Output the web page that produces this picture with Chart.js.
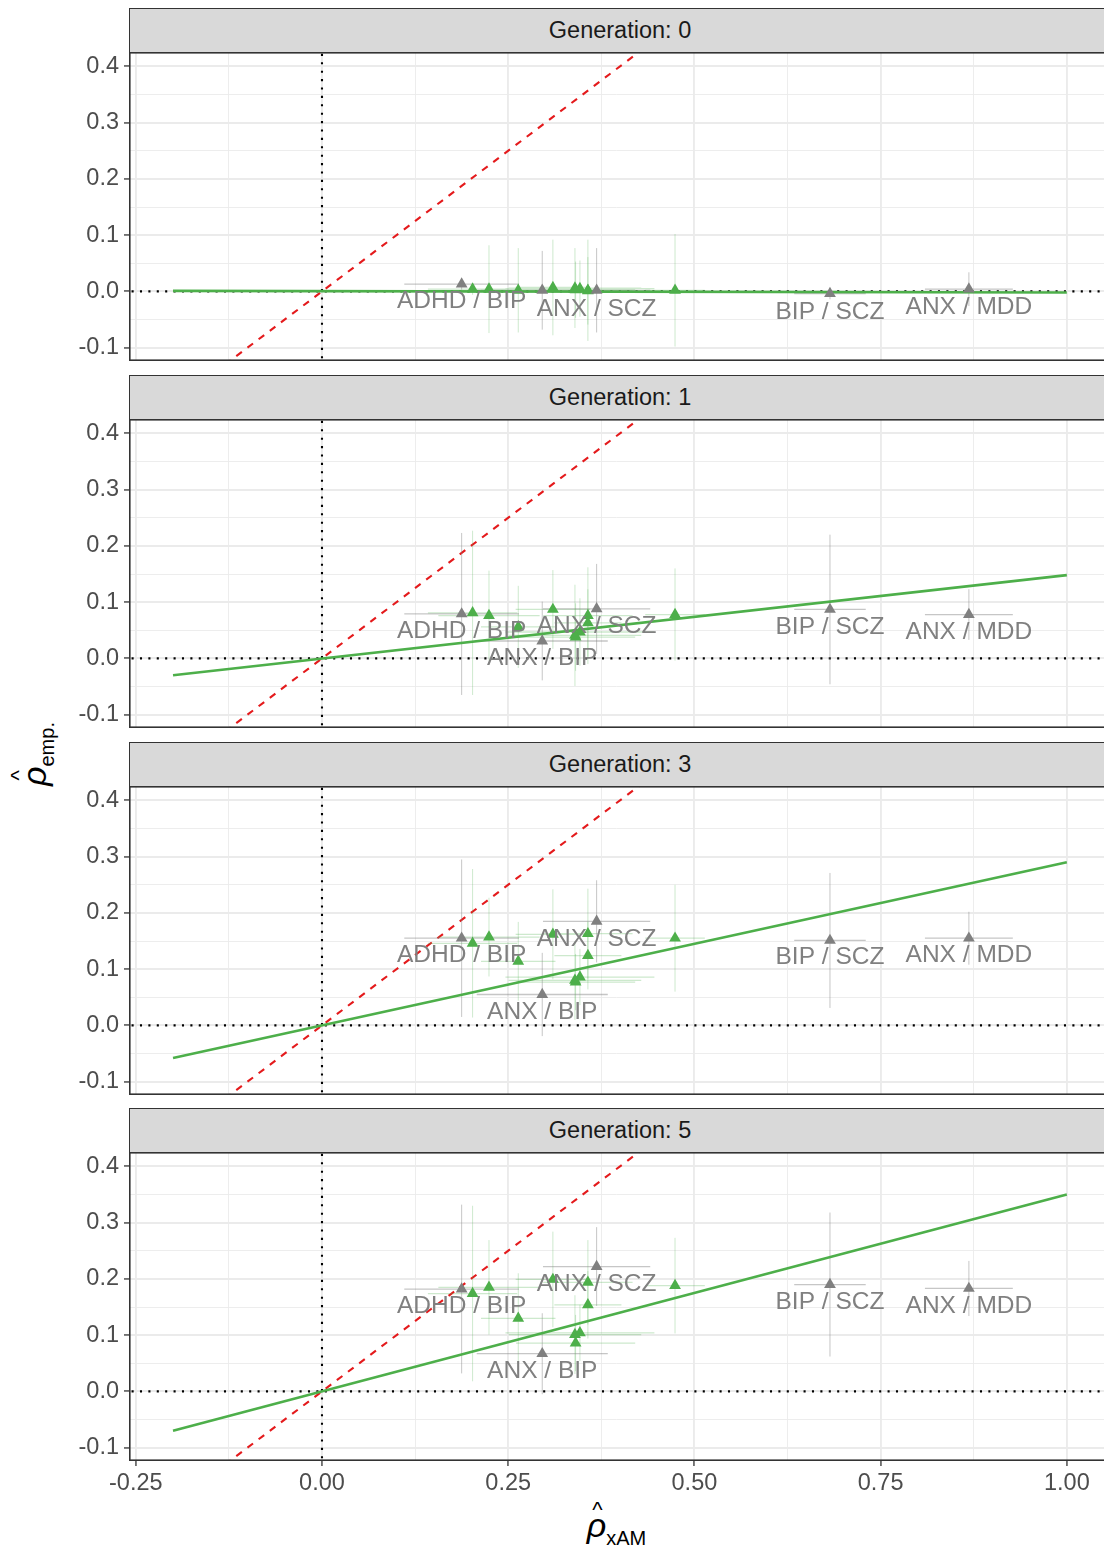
<!DOCTYPE html>
<html>
<head>
<meta charset="utf-8">
<script src="https://cdn.jsdelivr.net/npm/chart.js@4.4.1/dist/chart.umd.min.js"></script>
<style>
  body { margin: 0; background: #fff; font-family: "Liberation Sans", Arial, sans-serif; }
  #figure { position: relative; width: 1104px; height: 1549px; overflow: hidden; background: #fff; }
  .strip {
    position: absolute; left: 129px; width: 990px; height: 45px;
    background: #d9d9d9; border: 1.5px solid #333; box-sizing: border-box;
    color: #1a1a1a; font-size: 23.5px; line-height: 42px;
    padding-right: 8px; text-align: center;
  }
  .panel { position: absolute; left: 0; }
  .axisTitle { position: absolute; white-space: nowrap; color: #000; line-height: 1; text-align: center; }
  .rho { position: relative; display: inline-block; font-size: 34px; font-style: italic; }
  .caret { position: absolute; left: 2px; right: 0; top: -9px; font-size: 22px; font-style: normal; text-align: center; }
  .sub { font-size: 20px; position: relative; top: 8px; }
</style>
</head>
<body>
<div id="figure">
  <div class="axisTitle" id="xTitle" style="left:129px; width:975px; top:1508px;">
    <span class="rho">ρ<span class="caret">^</span></span><span class="sub">xAM</span>
  </div>
  <div class="axisTitle" id="yTitle" style="left:-116px; top:737px; width:300px; transform: rotate(-90deg);">
    <span class="rho">ρ<span class="caret">^</span></span><span class="sub">emp.</span>
  </div>
</div>

<script>
  'use strict';

  const generations = [0, 1, 3, 5];

  // Trait pairs that get a text label (grey)
  const namedPairs = ['ADHD / BIP', 'ANX / BIP', 'ANX / SCZ', 'BIP / SCZ', 'ANX / MDD'];
  const namedXam = [0.1875, 0.2957, 0.3687, 0.682, 0.8685];
  const namedXamErr = [0.077, 0.088, 0.072, 0.048, 0.059];
  const namedEmp = [
    [0.013, 0.002, 0.002, -0.004, 0.004],
    [0.079, 0.031, 0.088, 0.087, 0.078],
    [0.155, 0.055, 0.185, 0.151, 0.155],
    [0.182, 0.067, 0.222, 0.190, 0.183]
  ];
  const namedEmpErr = [
    [0.010, 0.070, 0.075, 0.010, 0.030],
    [0.144, 0.070, 0.080, 0.133, 0.045],
    [0.140, 0.074, 0.073, 0.120, 0.047],
    [0.150, 0.072, 0.070, 0.128, 0.049]
  ];

  // Remaining trait pairs (green)
  const otherXam = [0.2022, 0.2242, 0.2635, 0.310, 0.3396, 0.3463, 0.3405, 0.357, 0.357, 0.474];
  const otherXamErr = [0.060, 0.068, 0.050, 0.050, 0.089, 0.100, 0.080, 0.060, 0.045, 0.040];
  const otherEmp = [
    [0.004, 0.004, 0.002, 0.007, 0.006, 0.005, 0.003, 0.002, 0.001, 0.002],
    [0.081, 0.076, 0.056, 0.087, 0.041, 0.047, 0.038, 0.076, 0.063, 0.078],
    [0.146, 0.157, 0.114, 0.162, 0.080, 0.086, 0.077, 0.163, 0.124, 0.155],
    [0.174, 0.185, 0.130, 0.199, 0.101, 0.104, 0.086, 0.194, 0.154, 0.188]
  ];
  const otherEmpErr = [
    [0.010, 0.078, 0.075, 0.085, 0.071, 0.050, 0.050, 0.090, 0.060, 0.100],
    [0.146, 0.080, 0.073, 0.070, 0.090, 0.060, 0.060, 0.086, 0.060, 0.082],
    [0.132, 0.070, 0.070, 0.080, 0.070, 0.050, 0.050, 0.080, 0.060, 0.095],
    [0.156, 0.084, 0.080, 0.085, 0.070, 0.050, 0.050, 0.075, 0.060, 0.085]
  ];

  // Fitted line, end points per generation
  const fitX = [-0.2, 1.0];
  const fitY = [
    [0.001, -0.002],
    [-0.030, 0.148],
    [-0.058, 0.290],
    [-0.070, 0.350]
  ];

  // Vertical placement of the pair labels (null = label dropped)
  const labelY = [
    [-0.017, null, -0.031, -0.037, -0.028],
    [0.049, 0.000, 0.057, 0.056, 0.047],
    [0.124, 0.023, 0.153, 0.121, 0.124],
    [0.151, 0.036, 0.191, 0.158, 0.151]
  ];

  // Axis ticks
  const xMajor = [-0.25, 0, 0.25, 0.5, 0.75, 1.0];
  const xTickLabels = ['-0.25', '0.00', '0.25', '0.50', '0.75', '1.00'];
  const xMinor = [-0.125, 0.125, 0.375, 0.625, 0.875];
  const yMajor = [-0.1, 0, 0.1, 0.2, 0.3, 0.4];
  const yTickLabels = ['-0.1', '0.0', '0.1', '0.2', '0.3', '0.4'];
  const yMinor = [-0.05, 0.05, 0.15, 0.25, 0.35];

  const X_MIN = -0.2591, X_MAX = 1.0499;
  const Y_MIN = -0.1237, Y_MAX = 0.4256;

  const colors = {
    green: '#4daf4a',
    greenBar: 'rgba(77, 175, 74, 0.28)',
    grey: '#808080',
    greyBar: 'rgba(128, 128, 128, 0.45)',
    red: '#e41a1c',
    grid: '#ebebeb',
    frame: '#333333',
    tickText: '#4d4d4d'
  };

  const PLOT_TOPS = [52, 419, 786, 1152];
  const PLOT_H = 309;
  const AXIS_W = 129;
  const X_AXIS_H = 44;

  Chart.defaults.font.family = '"Liberation Sans", Arial, sans-serif';

  const findIndex = (arr, v) => arr.findIndex(a => Math.abs(a - v) < 1e-9);

  // vertical or horizontal segments, separated by gaps
  function errorSegments(xs, ys, err, vertical) {
    const out = [];
    xs.forEach((x, i) => {
      const y = ys[i], e = err[i];
      if (vertical) {
        out.push({ x: x, y: y - e }, { x: x, y: y + e });
      } else {
        out.push({ x: x - e, y: y }, { x: x + e, y: y });
      }
      out.push({ x: x, y: null });
    });
    return out;
  }

  function points(xs, ys) {
    return xs.map((x, i) => ({ x: x, y: ys[i] }));
  }

  // panel frame, drawn on top of everything
  const panelFrame = {
    id: 'panelFrame',
    afterDraw(chart) {
      const { ctx, chartArea: a } = chart;
      ctx.save();
      ctx.strokeStyle = colors.frame;
      ctx.lineWidth = 1.6;
      ctx.strokeRect(a.left + 0.8, a.top + 0.8, a.width + 4, a.height - 1.6);
      ctx.restore();
    }
  };

  // text labels for the named pairs
  const pairLabels = {
    id: 'pairLabels',
    afterDatasetsDraw(chart, args, opts) {
      const { ctx, chartArea: a, scales } = chart;
      ctx.save();
      ctx.beginPath();
      ctx.rect(a.left, a.top, a.width, a.height);
      ctx.clip();
      ctx.font = '24.5px "Liberation Sans", Arial, sans-serif';
      ctx.fillStyle = colors.grey;
      ctx.textAlign = 'center';
      ctx.textBaseline = 'middle';
      namedPairs.forEach((name, i) => {
        const ly = opts.ys[i];
        if (ly === null) return;
        ctx.fillText(name, scales.x.getPixelForValue(namedXam[i]), scales.y.getPixelForValue(ly));
      });
      ctx.restore();
    }
  };

  function buildPanel(g) {
    const isBottom = g === generations.length - 1;
    const fig = document.getElementById('figure');

    const strip = document.createElement('div');
    strip.className = 'strip';
    strip.style.top = (PLOT_TOPS[g] - 44) + 'px';
    strip.textContent = 'Generation: ' + generations[g];
    fig.appendChild(strip);

    const canvas = document.createElement('canvas');
    canvas.className = 'panel';
    canvas.width = 1104;
    canvas.height = PLOT_H + (isBottom ? X_AXIS_H : 0);
    canvas.style.top = PLOT_TOPS[g] + 'px';
    fig.appendChild(canvas);

    const isMajorX = v => findIndex(xMajor, v) >= 0;
    const isMajorY = v => findIndex(yMajor, v) >= 0;

    new Chart(canvas.getContext('2d'), {
      type: 'scatter',
      data: {
        datasets: [
          {
            label: 'named pairs',
            data: points(namedXam, namedEmp[g]),
            pointStyle: 'triangle',
            pointRadius: 6.8,
            backgroundColor: colors.grey,
            borderWidth: 0,
            order: 0
          },
          {
            label: 'other pairs',
            data: points(otherXam, otherEmp[g]),
            pointStyle: 'triangle',
            pointRadius: 6.8,
            backgroundColor: colors.green,
            borderWidth: 0,
            order: 1
          },
          {
            type: 'line',
            label: 'fit',
            data: points(fitX, fitY[g]),
            borderColor: colors.green,
            borderWidth: 2.6,
            pointRadius: 0,
            clip: 0,
            order: 2
          },
          {
            type: 'line',
            label: 'named vertical',
            data: errorSegments(namedXam, namedEmp[g], namedEmpErr[g], true),
            borderColor: colors.greyBar,
            borderWidth: 1,
            pointRadius: 0,
            spanGaps: false,
            clip: 0,
            order: 3
          },
          {
            type: 'line',
            label: 'named horizontal',
            data: errorSegments(namedXam, namedEmp[g], namedXamErr, false),
            borderColor: colors.greyBar,
            borderWidth: 1.3,
            pointRadius: 0,
            spanGaps: false,
            clip: 0,
            order: 3
          },
          {
            type: 'line',
            label: 'other vertical',
            data: errorSegments(otherXam, otherEmp[g], otherEmpErr[g], true),
            borderColor: colors.greenBar,
            borderWidth: 1,
            pointRadius: 0,
            spanGaps: false,
            clip: 0,
            order: 4
          },
          {
            type: 'line',
            label: 'other horizontal',
            data: errorSegments(otherXam, otherEmp[g], otherXamErr, false),
            borderColor: colors.greenBar,
            borderWidth: 1.3,
            pointRadius: 0,
            spanGaps: false,
            clip: 0,
            order: 4
          },
          {
            type: 'line',
            label: 'identity',
            data: [{ x: -1, y: -1 }, { x: 1, y: 1 }],
            borderColor: colors.red,
            borderWidth: 2.1,
            borderDash: [7, 7],
            pointRadius: 0,
            clip: 0,
            order: 5
          },
          {
            type: 'line',
            label: 'zero x',
            data: [{ x: 0, y: -1 }, { x: 0, y: 1 }],
            borderColor: '#000',
            borderWidth: 2.1,
            borderDash: [2.1, 6.3],
            pointRadius: 0,
            clip: 0,
            order: 6
          },
          {
            type: 'line',
            label: 'zero y',
            data: [{ x: -1, y: 0 }, { x: 2, y: 0 }],
            borderColor: '#000',
            borderWidth: 2.1,
            borderDash: [2.1, 6.3],
            pointRadius: 0,
            clip: 0,
            order: 6
          }
        ]
      },
      options: {
        responsive: false,
        animation: false,
        events: [],
        layout: { padding: 0, autoPadding: false },
        plugins: {
          legend: { display: false },
          tooltip: { enabled: false },
          pairLabels: { ys: labelY[g] }
        },
        scales: {
          x: {
            type: 'linear',
            min: X_MIN,
            max: X_MAX,
            afterBuildTicks: s => { s.ticks = xMajor.concat(xMinor).sort((a, b) => a - b).map(v => ({ value: v })); },
            afterFit: s => { s.height = isBottom ? X_AXIS_H : 0; s.paddingLeft = 0; s.paddingRight = 0; },
            border: { display: false },
            grid: {
              color: colors.grid,
              lineWidth: c => (c.tick && isMajorX(c.tick.value)) ? 1.9 : 0.9,
              drawTicks: isBottom,
              tickLength: 5,
              tickWidth: 1.3,
              tickColor: c => (c.tick && isMajorX(c.tick.value)) ? colors.frame : 'rgba(0,0,0,0)'
            },
            ticks: {
              display: isBottom,
              autoSkip: false,
              maxRotation: 0,
              padding: 3,
              color: colors.tickText,
              font: { size: 23.5 },
              callback: v => { const i = findIndex(xMajor, v); return i >= 0 ? xTickLabels[i] : ''; }
            }
          },
          y: {
            type: 'linear',
            min: Y_MIN,
            max: Y_MAX,
            afterBuildTicks: s => { s.ticks = yMajor.concat(yMinor).sort((a, b) => a - b).map(v => ({ value: v })); },
            afterFit: s => { s.width = AXIS_W; s.paddingTop = 0; s.paddingBottom = 0; },
            border: { display: false },
            grid: {
              color: colors.grid,
              lineWidth: c => (c.tick && isMajorY(c.tick.value)) ? 1.9 : 0.9,
              tickLength: 5,
              tickWidth: 1.3,
              tickColor: c => (c.tick && isMajorY(c.tick.value)) ? colors.frame : 'rgba(0,0,0,0)'
            },
            ticks: {
              autoSkip: false,
              padding: 5,
              color: colors.tickText,
              font: { size: 23.5 },
              callback: v => { const i = findIndex(yMajor, v); return i >= 0 ? yTickLabels[i] : ''; }
            }
          }
        }
      },
      plugins: [pairLabels, panelFrame]
    });
  }

  generations.forEach((gen, g) => buildPanel(g));
</script>
</body>
</html>
